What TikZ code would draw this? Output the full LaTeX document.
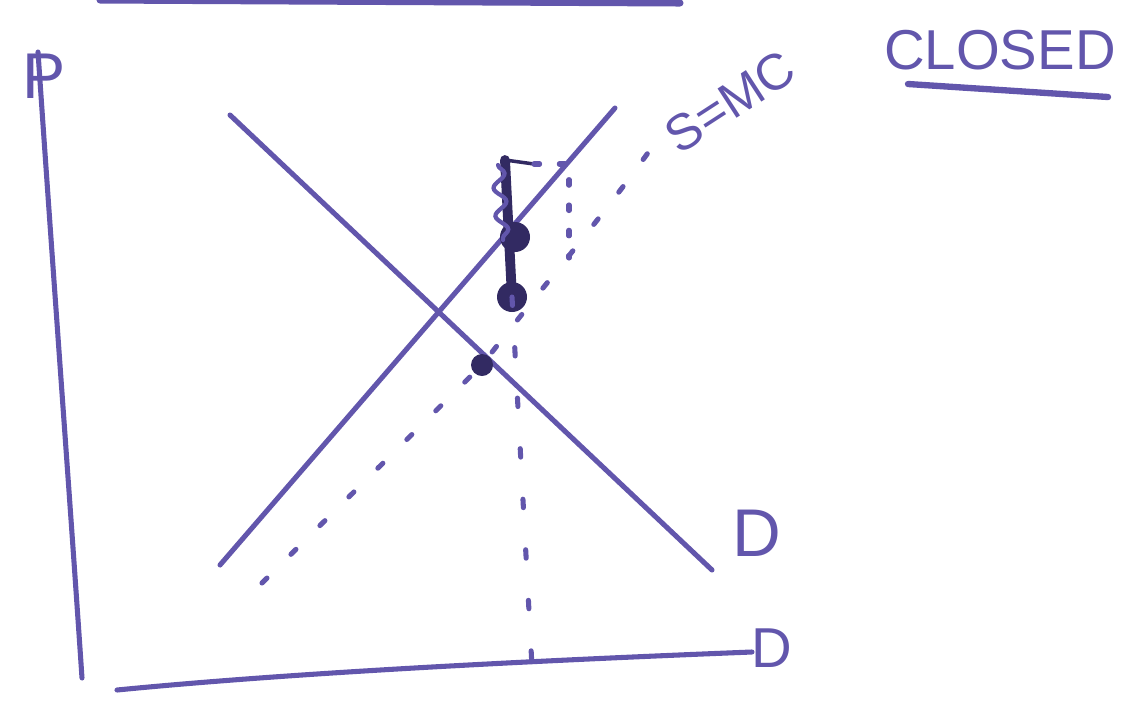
\documentclass[tikz,border=0pt]{standalone}
\usepackage{fontspec}
\setsansfont{Liberation Sans}
\usepackage{xcolor}
\usetikzlibrary{positioning,decorations.pathmorphing}
\definecolor{marker}{RGB}{98,86,172}
\definecolor{ink}{RGB}{50,42,98}
\tikzset{
  pen/.style={draw=marker, line width=3.6pt, line cap=round},
  dotline/.style={draw=marker, line width=3.6pt, line cap=round, dash pattern=on 5pt off 24pt},
  inkline/.style={draw=ink, line width=7pt, line cap=round},
  blob/.style={circle, fill=ink, inner sep=0pt, minimum size=#1},
  hand/.style={font=\sffamily\fontsize{#1}{#1}\selectfont, text=marker, inner sep=0pt},
}

\begin{document}
\begin{tikzpicture}[x=0.025cm, y=-0.025cm]
  \useasboundingbox (0,0) rectangle (1133,700);
  % heading line cut at the top
  \coordinate (topL) at (100,0);
  \coordinate (topR) at (680,3);
  \draw[pen, line width=5pt] (topL) -- (topR);

  % axes
  \coordinate (ytop) at (38,52);
  \coordinate (origin) at (82,678);
  \coordinate (xleft) at (117,690);
  \coordinate (xright) at (752,652);
  \draw[pen] (ytop) .. controls (55,300) and (70,500) .. (origin);
  \draw[pen] (xleft) .. controls (300,672) and (550,660) .. (xright);
  \node[hand=46pt] (plbl) at (44,76) {P};
  \node[hand=40pt] (qlbl) at (772,648) {D};

  % demand and supply
  \coordinate (dtop) at (230,115);
  \coordinate (dbot) at (712,570);
  \coordinate (sbot) at (220,565);
  \coordinate (stop) at (615,108);
  \draw[pen] (dtop) -- (dbot);
  \draw[pen] (sbot) -- (stop);
  \node[hand=48pt] (dlbl) at (757,533) {D};

  % S = MC, dotted
  \coordinate (mcbot) at (262,583);
  \coordinate (mctop) at (650,150);
  \node[blob=0.55cm] (eq) at (482,365) {};
  \draw[dotline] (mcbot) -- (eq.center) .. controls (540,290) and (600,220) .. (mctop);
  \node[hand=36pt, rotate=33] (mclbl) at (730,102) {S=MC};

  % closed
  \node[hand=40pt] (closed) at (1000,50) {CLOSED};
  \coordinate (ulL) at (908,84);
  \coordinate (ulR) at (1108,97);
  \draw[pen, line width=4.5pt] (ulL) -- (ulR);

  % price gap
  \node[blob=0.75cm] (pdot) at (515,237) {};
  \node[blob=0.75cm] (mcdot) at (512,297) {};
  \coordinate (ptop) at (505,160);
  \coordinate (ttick) at (534,164);
  \coordinate (corner) at (569,164);
  \coordinate (cornerb) at (569,258);
  \coordinate (qbot) at (533,685);
  \draw[inkline] (ptop) -- (mcdot.center);
  \draw[draw=ink, line width=2.5pt, line cap=round] (ptop) -- (ttick);
  \draw[dotline, dash pattern=on 4pt off 14pt] (ttick) -- (corner) -- (cornerb);
  \draw[dotline, dash pattern=on 6pt off 30pt] (mcdot.center) -- (qbot);
  \draw[marker, line width=3pt, line cap=round,
        decorate, decoration={snake, amplitude=1.5mm, segment length=7mm}]
        (498,165) -- (503,240);
\end{tikzpicture}
\end{document}
